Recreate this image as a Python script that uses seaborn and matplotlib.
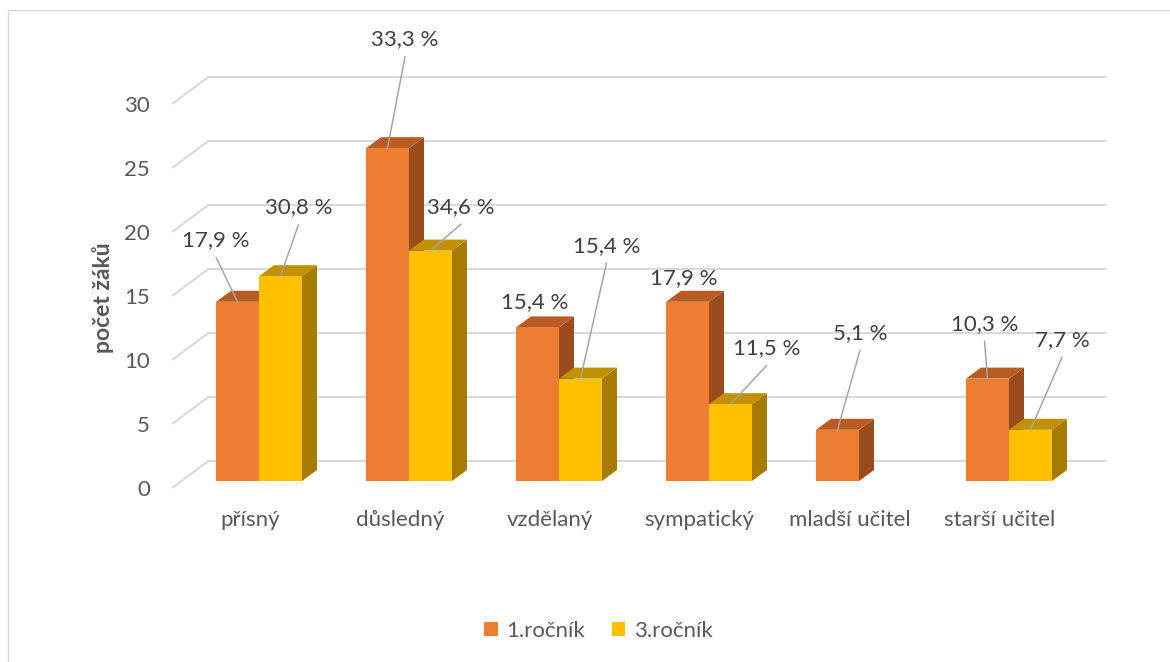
import matplotlib
matplotlib.use("Agg")
import numpy as np
import pandas as pd
import seaborn as sns
import matplotlib.pyplot as plt
from matplotlib.transforms import ScaledTranslation
from matplotlib.patches import Polygon, Rectangle, Patch

# ---- data -------------------------------------------------------------
categories = ["přísný", "důsledný", "vzdělaný", "sympatický", "mladší učitel", "starší učitel"]
series_names = ["1.ročník", "3.ročník"]
first_year = [14, 26, 12, 14, 4, 8]
third_year = [16, 18, 8, 6, 0, 4]
y_ticks = [0, 5, 10, 15, 20, 25, 30]
y_title = "počet žáků"

# where each percentage label sits, in pixels right/down from the top of its bar
label_offsets = {
    "1.ročník": [(-21.5, -62), (17.5, -109), (-2.5, -25), (-3.5, -24), (22.5, -97), (-3, -55)],
    "3.ročník": [(18, -69), (30.5, -44), (26, -133), (36, -56), (0, 0), (31.5, -90)],
}

# front / top / side shades of each series
shades = {
    "1.ročník": ("#ED7D31", "#B85C24", "#9A4D1C"),
    "3.ročník": ("#FFC000", "#C29100", "#A67C00"),
}
GRID = "#D9D9D9"
TEXT = "#595959"
LABEL = "#404040"
FS = 16

sns.set_theme(style="white")
plt.rcParams["font.family"] = ["Lato", "DejaVu Sans"]

DPI = 100
W, H = 1170, 662
fig = plt.figure(figsize=(W / DPI, H / DPI), dpi=DPI)
fig.patch.set_facecolor("white")

# plot area in pixels; category spacing 150 px, 12.8 px per pupil
ax_l, ax_r, ax_b, ax_t = 100, 1140, 481, 33
ax = fig.add_axes([ax_l / W, (H - ax_b) / H, (ax_r - ax_l) / W, (ax_b - ax_t) / H])

df = pd.DataFrame({
    "kategorie": categories * 2,
    "ročník": [series_names[0]] * len(categories) + [series_names[1]] * len(categories),
    "počet": first_year + third_year,
})

sns.barplot(data=df, x="kategorie", y="počet", hue="ročník", order=categories,
            hue_order=series_names, palette=[shades[s][0] for s in series_names],
            width=0.573, saturation=1, legend=False, ax=ax, linewidth=0)

ax.set_xlim((ax_l - 259) / 150, (ax_r - 259) / 150)
ax.set_ylim(0, (ax_b - ax_t) / 12.8)


def px_to_data(dx, dy):
    """Convert a pixel shift (right, down) into data units."""
    p0 = ax.transData.transform((0, 0))
    p1 = ax.transData.transform((1, 1))
    return dx / (p1[0] - p0[0]), -dy / (p1[1] - p0[1])


# ---- 3-D frame: back wall and left wall gridlines ----------------------
x_lo, x_hi = -0.518, 5.468
bx, by = px_to_data(27.75, -20.5)   # back wall, relative to bar fronts
fx, fy = px_to_data(-9.25, 7)       # front edge, relative to bar fronts
for v in y_ticks:
    ax.plot([x_lo + bx, x_hi + bx], [v + by, v + by], color=GRID, lw=1.5,
            zorder=0, clip_on=False, solid_capstyle="butt")
    ax.plot([x_lo + fx, x_lo + bx], [v + fy, v + by], color=GRID, lw=1.5,
            zorder=0, clip_on=False, solid_capstyle="butt")

# ---- 3-D bars -----------------------------------------------------------
ddx, ddy = px_to_data(15, -11)
values = {series_names[0]: first_year, series_names[1]: third_year}
n = len(categories)
for k, patch in enumerate(ax.patches):
    s = series_names[k // n]
    i = k % n
    front, top, side = shades[s]
    base_z = 3 if s == series_names[0] else 5
    x0, w, h = patch.get_x(), patch.get_width(), patch.get_height()
    if h <= 0:
        patch.set_visible(False)
        continue
    patch.set_zorder(base_z)
    patch.set_clip_on(False)
    ax.add_patch(Polygon([(x0 + w, 0), (x0 + w + ddx, ddy), (x0 + w + ddx, h + ddy), (x0 + w, h)],
                         closed=True, fc=side, ec="none", zorder=base_z - 0.5, clip_on=False))
    ax.add_patch(Polygon([(x0, h), (x0 + w, h), (x0 + w + ddx, h + ddy), (x0 + ddx, h + ddy)],
                         closed=True, fc=top, ec="none", zorder=base_z - 0.5, clip_on=False))

    # percentage label with leader line
    vals = values[s]
    share = 100 * vals[i] / sum(vals)
    text = f"{share:.1f} %".replace(".", ",")
    cx = x0 + w / 2
    ox, oy = label_offsets[s][i]
    lx, ly = px_to_data(ox, oy)
    tx, ty = cx + lx, h + ly
    ax.text(tx, ty, text, ha="center", va="center", fontsize=FS, color=LABEL,
            zorder=10, clip_on=False)
    if abs(oy) > 35:
        ex, ey = px_to_data(0, 17.5)
        ax.plot([cx, tx], [h, ty + ey], color="#A6A6A6", lw=1.1, zorder=9,
                clip_on=False)

# ---- axes text ----------------------------------------------------------
for sp in ax.spines.values():
    sp.set_visible(False)
ax.spines["left"].set_position(("data", x_lo))
ax.set_yticks(y_ticks)
ax.set_yticklabels([str(v) for v in y_ticks])
ax.tick_params(axis="y", length=0, pad=22.5, labelsize=FS, labelcolor=TEXT)
ax.tick_params(axis="x", length=0, pad=16, labelsize=FS, labelcolor=TEXT)
ax.set_xticks(range(n))
ax.set_xticklabels(categories)
ax.set_xlabel("")

y_shift = ScaledTranslation(0, -7 / DPI, fig.dpi_scale_trans)
x_shift = ScaledTranslation(-9.25 / DPI, -7 / DPI, fig.dpi_scale_trans)
for lbl in ax.get_yticklabels():
    lbl.set_transform(lbl.get_transform() + y_shift)
for lbl in ax.get_xticklabels():
    lbl.set_transform(lbl.get_transform() + x_shift)

ax.set_ylabel(y_title, fontsize=FS + 0.5, fontweight="bold", color=TEXT)
ax.yaxis.set_label_coords((114 - ax_l) / (ax_r - ax_l), (ax_b - 298) / (ax_b - ax_t))

# ---- legend and outer frame --------------------------------------------
handles = [Patch(facecolor=shades[s][0], edgecolor="none") for s in series_names]
fig.legend(handles=handles, labels=series_names, loc="center",
           bbox_to_anchor=(598.5 / W, 1 - 631 / H), ncol=2, frameon=False,
           fontsize=FS, handlelength=0.6, handleheight=0.6, handletextpad=0.4,
           columnspacing=1.2, labelcolor=TEXT)

fig.add_artist(Rectangle((8 / W, -0.01), 1.1, (H - 10) / H + 0.01,
                         transform=fig.transFigure, fill=False, ec=GRID, lw=1))

fig.savefig("out.png", dpi=DPI)
